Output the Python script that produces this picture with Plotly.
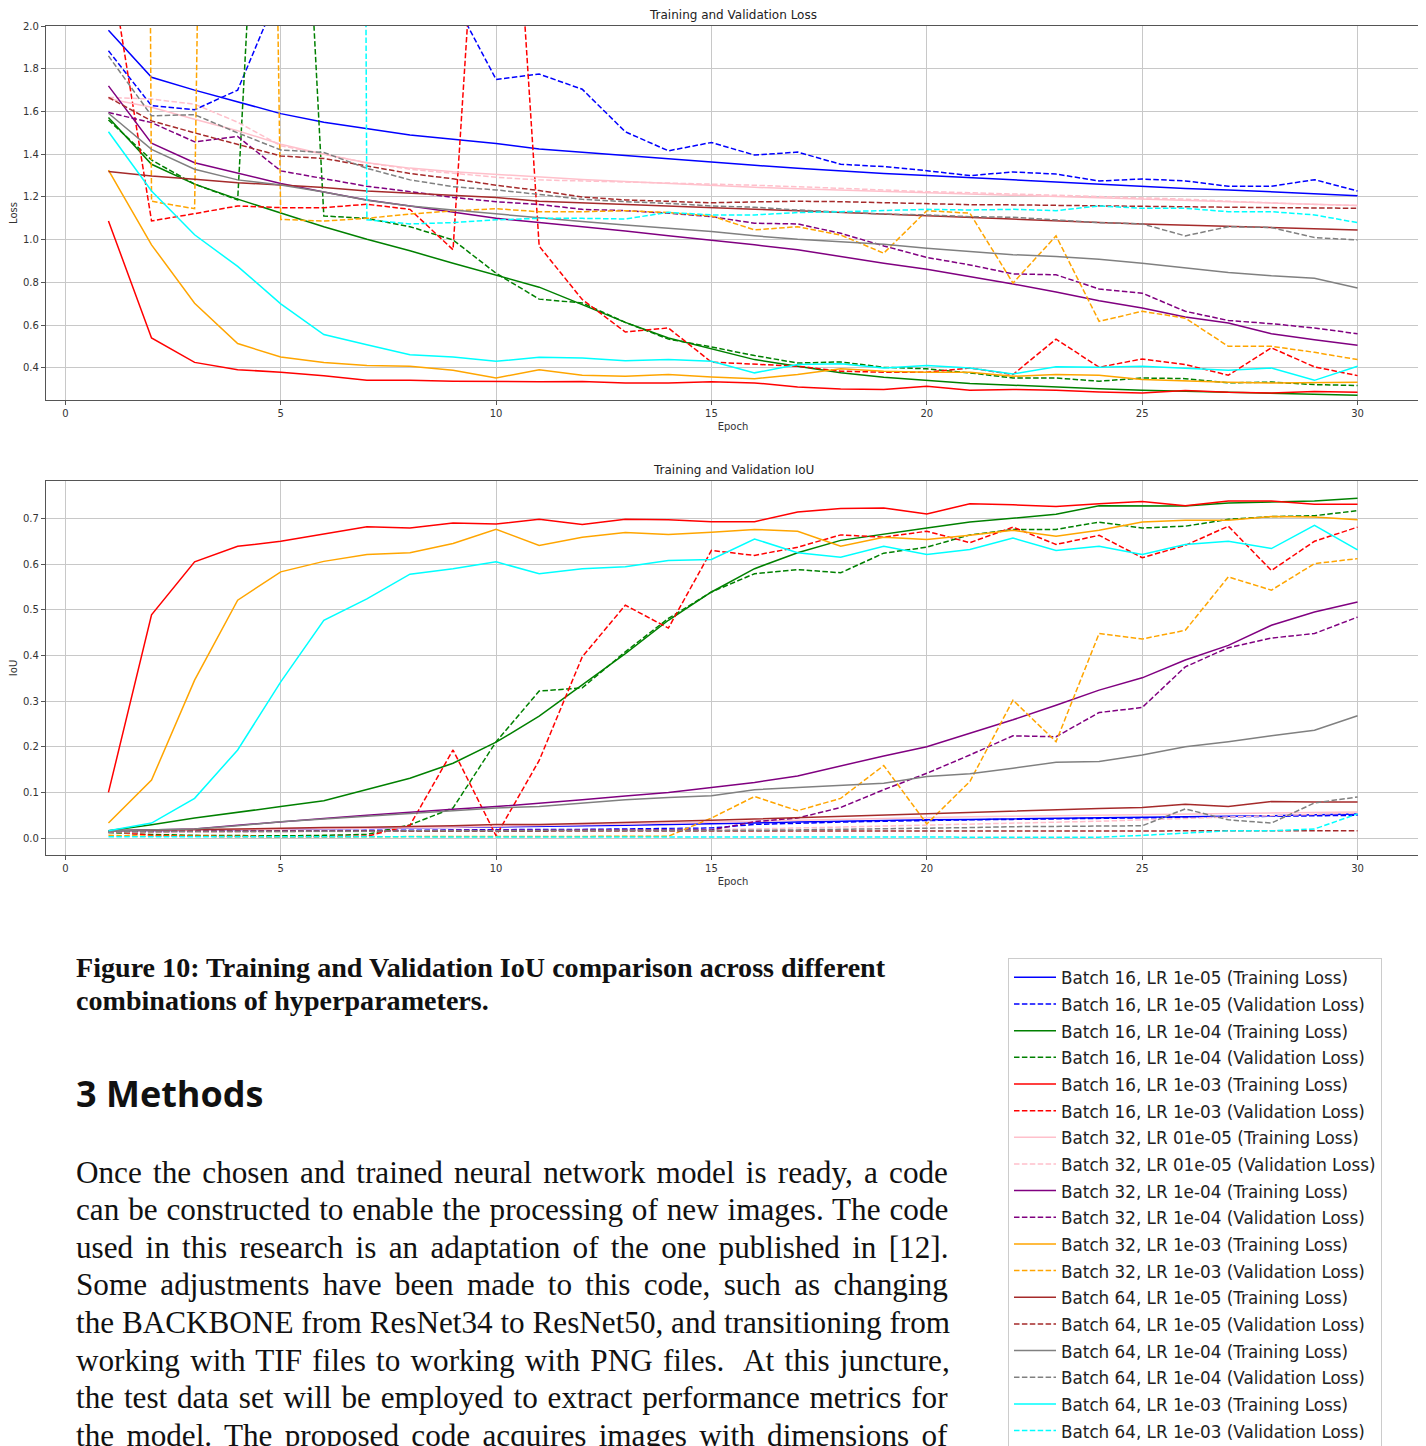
import plotly.graph_objects as go

W, H = 1426, 1446
OFF = 8  # the page body adds an 8px margin

epochs = list(range(1, 31))

configs = [
    "Batch 16, LR 1e-05", "Batch 16, LR 1e-04", "Batch 16, LR 1e-03",
    "Batch 32, LR 01e-05", "Batch 32, LR 1e-04", "Batch 32, LR 1e-03",
    "Batch 64, LR 1e-05", "Batch 64, LR 1e-04", "Batch 64, LR 1e-03",
]
colors = ["#0000ff", "#008000", "#ff0000", "#ffc0cb", "#800080",
          "#ffa500", "#a52a2a", "#808080", "#00ffff"]

# ---------------- Loss ----------------
loss_train_b16_1e5 = [1.98, 1.76, 1.70, 1.645, 1.59, 1.55, 1.52, 1.49, 1.47, 1.45, 1.425, 1.409, 1.393, 1.377, 1.362, 1.348, 1.334, 1.321, 1.31, 1.30, 1.29, 1.279, 1.268, 1.258, 1.25, 1.24, 1.233, 1.225, 1.217, 1.206]
loss_val_b16_1e5 = [1.884, 1.627, 1.608, 1.70, 2.18, 2.35, 2.4, 2.3, 2.13, 1.75, 1.775, 1.704, 1.505, 1.416, 1.455, 1.396, 1.41, 1.353, 1.342, 1.323, 1.30, 1.317, 1.307, 1.275, 1.284, 1.275, 1.25, 1.25, 1.281, 1.228]
loss_train_b16_1e4 = [1.572, 1.353, 1.26, 1.19, 1.125, 1.061, 1.002, 0.948, 0.89, 0.834, 0.778, 0.696, 0.613, 0.54, 0.489, 0.439, 0.408, 0.377, 0.356, 0.342, 0.327, 0.319, 0.31, 0.303, 0.296, 0.291, 0.286, 0.281, 0.277, 0.272]
loss_val_b16_1e4 = [1.56, 1.373, 1.26, 1.186, 5.0, 1.111, 1.10, 1.061, 0.999, 0.843, 0.722, 0.704, 0.613, 0.535, 0.498, 0.458, 0.423, 0.428, 0.403, 0.396, 0.377, 0.353, 0.353, 0.338, 0.353, 0.35, 0.33, 0.334, 0.322, 0.318]
loss_train_b16_1e3 = [1.088, 0.54, 0.426, 0.392, 0.38, 0.364, 0.342, 0.342, 0.338, 0.335, 0.335, 0.336, 0.33, 0.33, 0.335, 0.33, 0.311, 0.302, 0.299, 0.314, 0.296, 0.299, 0.296, 0.288, 0.283, 0.294, 0.286, 0.283, 0.29, 0.286]
loss_val_b16_1e3 = [2.34, 1.088, 1.122, 1.158, 1.15, 1.15, 1.166, 1.142, 0.953, 4.1, 0.97, 0.72, 0.568, 0.587, 0.427, 0.416, 0.408, 0.385, 0.38, 0.38, 0.40, 0.369, 0.535, 0.403, 0.442, 0.416, 0.366, 0.494, 0.405, 0.364]
loss_train_b32_1e5 = [1.66, 1.62, 1.564, 1.51, 1.447, 1.40, 1.36, 1.335, 1.318, 1.305, 1.292, 1.282, 1.272, 1.262, 1.252, 1.245, 1.238, 1.232, 1.225, 1.218, 1.212, 1.207, 1.202, 1.197, 1.19, 1.184, 1.178, 1.172, 1.166, 1.16]
loss_val_b32_1e5 = [1.666, 1.658, 1.634, 1.55, 1.44, 1.40, 1.36, 1.33, 1.31, 1.292, 1.28, 1.275, 1.27, 1.266, 1.262, 1.255, 1.248, 1.24, 1.232, 1.225, 1.22, 1.214, 1.21, 1.205, 1.198, 1.19, 1.18, 1.172, 1.165, 1.16]
loss_train_b32_1e4 = [1.72, 1.452, 1.36, 1.31, 1.263, 1.223, 1.186, 1.158, 1.128, 1.10, 1.08, 1.061, 1.041, 1.019, 0.999, 0.976, 0.953, 0.921, 0.89, 0.862, 0.828, 0.793, 0.755, 0.714, 0.68, 0.638, 0.61, 0.56, 0.532, 0.506]
loss_val_b32_1e4 = [1.595, 1.548, 1.458, 1.483, 1.322, 1.286, 1.25, 1.225, 1.198, 1.178, 1.165, 1.142, 1.136, 1.124, 1.108, 1.077, 1.074, 1.03, 0.971, 0.917, 0.882, 0.84, 0.836, 0.769, 0.75, 0.665, 0.622, 0.607, 0.587, 0.56]
loss_train_b32_1e3 = [1.326, 0.976, 0.703, 0.514, 0.451, 0.426, 0.411, 0.408, 0.389, 0.353, 0.392, 0.366, 0.361, 0.369, 0.358, 0.35, 0.369, 0.396, 0.385, 0.38, 0.38, 0.361, 0.369, 0.366, 0.346, 0.338, 0.333, 0.33, 0.33, 0.333]
loss_val_b32_1e3 = [35.0, 1.18, 1.145, 15.0, 1.095, 1.087, 1.10, 1.12, 1.135, 1.145, 1.131, 1.131, 1.136, 1.127, 1.111, 1.046, 1.061, 1.022, 0.937, 1.136, 1.124, 0.797, 1.018, 0.618, 0.665, 0.633, 0.501, 0.501, 0.473, 0.439]
loss_train_b64_1e5 = [1.319, 1.298, 1.283, 1.267, 1.256, 1.244, 1.228, 1.217, 1.206, 1.198, 1.18, 1.172, 1.165, 1.157, 1.15, 1.143, 1.136, 1.128, 1.12, 1.11, 1.102, 1.095, 1.088, 1.081, 1.074, 1.068, 1.062, 1.057, 1.052, 1.046]
loss_val_b64_1e5 = [1.666, 1.556, 1.50, 1.447, 1.392, 1.38, 1.345, 1.31, 1.285, 1.255, 1.23, 1.20, 1.186, 1.178, 1.173, 1.177, 1.18, 1.178, 1.173, 1.167, 1.164, 1.163, 1.16, 1.158, 1.156, 1.154, 1.152, 1.15, 1.149, 1.147]
loss_train_b64_1e4 = [1.592, 1.423, 1.33, 1.28, 1.256, 1.223, 1.185, 1.158, 1.139, 1.12, 1.103, 1.085, 1.069, 1.054, 1.038, 1.018, 1.002, 0.991, 0.979, 0.96, 0.945, 0.93, 0.921, 0.909, 0.89, 0.867, 0.847, 0.831, 0.82, 0.774]
loss_val_b64_1e4 = [1.86, 1.58, 1.585, 1.50, 1.42, 1.408, 1.334, 1.28, 1.248, 1.233, 1.212, 1.189, 1.178, 1.17, 1.158, 1.152, 1.139, 1.128, 1.12, 1.116, 1.108, 1.105, 1.093, 1.08, 1.074, 1.018, 1.061, 1.057, 1.01, 0.999]
loss_train_b64_1e3 = [1.505, 1.228, 1.023, 0.875, 0.70, 0.556, 0.509, 0.462, 0.451, 0.431, 0.45, 0.447, 0.434, 0.439, 0.431, 0.377, 0.416, 0.42, 0.40, 0.411, 0.40, 0.372, 0.405, 0.403, 0.408, 0.40, 0.389, 0.40, 0.342, 0.408]
loss_val_b64_1e3 = [20.0, 25.0, 30.0, 22.0, 28.0, 45.0, 1.093, 1.074, 1.08, 1.093, 1.10, 1.10, 1.097, 1.128, 1.116, 1.116, 1.127, 1.131, 1.136, 1.142, 1.139, 1.142, 1.136, 1.158, 1.147, 1.147, 1.131, 1.131, 1.116, 1.08]

# ---------------- IoU ----------------
iou_train_b16_1e5 = [0.015, 0.016, 0.018, 0.019, 0.02, 0.021, 0.022, 0.023, 0.024, 0.025, 0.026, 0.027, 0.028, 0.03, 0.031, 0.033, 0.035, 0.037, 0.038, 0.04, 0.041, 0.042, 0.043, 0.044, 0.046, 0.047, 0.048, 0.049, 0.051, 0.053]
iou_val_b16_1e5 = [0.012, 0.013, 0.014, 0.015, 0.016, 0.016, 0.017, 0.017, 0.018, 0.018, 0.019, 0.019, 0.02, 0.021, 0.022, 0.03, 0.033, 0.035, 0.037, 0.039, 0.04, 0.041, 0.042, 0.043, 0.044, 0.045, 0.046, 0.047, 0.048, 0.05]
iou_train_b16_1e4 = [0.016, 0.029, 0.044, 0.056, 0.069, 0.082, 0.106, 0.131, 0.164, 0.21, 0.267, 0.335, 0.404, 0.477, 0.539, 0.59, 0.625, 0.652, 0.666, 0.679, 0.692, 0.70, 0.709, 0.728, 0.728, 0.727, 0.734, 0.736, 0.738, 0.744]
iou_val_b16_1e4 = [0.012, 0.008, 0.006, 0.005, 0.005, 0.006, 0.008, 0.029, 0.066, 0.211, 0.322, 0.329, 0.408, 0.481, 0.539, 0.579, 0.588, 0.581, 0.624, 0.637, 0.664, 0.676, 0.676, 0.692, 0.679, 0.683, 0.698, 0.704, 0.706, 0.717]
iou_train_b16_1e3 = [0.10, 0.489, 0.605, 0.639, 0.65, 0.666, 0.682, 0.679, 0.69, 0.688, 0.698, 0.687, 0.698, 0.697, 0.693, 0.693, 0.714, 0.722, 0.723, 0.71, 0.732, 0.73, 0.726, 0.732, 0.737, 0.728, 0.738, 0.738, 0.731, 0.731]
iou_val_b16_1e3 = [0.015, 0.006, 0.004, 0.003, 0.003, 0.003, 0.004, 0.028, 0.193, 0.005, 0.17, 0.397, 0.51, 0.46, 0.63, 0.619, 0.637, 0.664, 0.659, 0.672, 0.647, 0.681, 0.643, 0.663, 0.614, 0.641, 0.683, 0.586, 0.65, 0.681]
iou_train_b32_1e5 = [0.015, 0.016, 0.017, 0.018, 0.019, 0.02, 0.021, 0.022, 0.024, 0.026, 0.027, 0.029, 0.031, 0.033, 0.036, 0.038, 0.040, 0.042, 0.044, 0.046, 0.047, 0.048, 0.049, 0.050, 0.051, 0.052, 0.053, 0.055, 0.056, 0.057]
iou_val_b32_1e5 = [0.012, 0.012, 0.013, 0.013, 0.014, 0.014, 0.015, 0.015, 0.016, 0.016, 0.017, 0.017, 0.018, 0.018, 0.019, 0.02, 0.022, 0.024, 0.026, 0.029, 0.031, 0.033, 0.035, 0.037, 0.04, 0.043, 0.046, 0.05, 0.053, 0.055]
iou_train_b32_1e4 = [0.016, 0.018, 0.02, 0.028, 0.036, 0.043, 0.05, 0.057, 0.063, 0.069, 0.076, 0.084, 0.092, 0.10, 0.111, 0.122, 0.136, 0.158, 0.18, 0.20, 0.229, 0.259, 0.291, 0.324, 0.351, 0.39, 0.422, 0.466, 0.495, 0.517]
iou_val_b32_1e4 = [0.015, 0.015, 0.015, 0.016, 0.016, 0.016, 0.016, 0.016, 0.017, 0.017, 0.017, 0.017, 0.017, 0.018, 0.018, 0.036, 0.044, 0.067, 0.106, 0.142, 0.182, 0.224, 0.222, 0.275, 0.286, 0.375, 0.417, 0.438, 0.448, 0.484]
iou_train_b32_1e3 = [0.033, 0.127, 0.346, 0.521, 0.583, 0.606, 0.621, 0.625, 0.645, 0.676, 0.641, 0.659, 0.669, 0.665, 0.67, 0.676, 0.672, 0.639, 0.659, 0.654, 0.663, 0.674, 0.661, 0.674, 0.692, 0.696, 0.696, 0.704, 0.703, 0.697]
iou_val_b32_1e3 = [0.006, 0.004, 0.004, 0.003, 0.003, 0.003, 0.003, 0.004, 0.004, 0.004, 0.004, 0.004, 0.004, 0.004, 0.044, 0.091, 0.06, 0.087, 0.159, 0.031, 0.124, 0.302, 0.211, 0.448, 0.436, 0.455, 0.572, 0.543, 0.601, 0.612]
iou_train_b64_1e5 = [0.016, 0.018, 0.019, 0.02, 0.022, 0.023, 0.024, 0.025, 0.027, 0.03, 0.03, 0.032, 0.034, 0.036, 0.039, 0.042, 0.045, 0.047, 0.05, 0.053, 0.056, 0.06, 0.063, 0.065, 0.067, 0.074, 0.069, 0.08, 0.079, 0.079]
iou_val_b64_1e5 = [0.014, 0.015, 0.015, 0.015, 0.015, 0.015, 0.015, 0.015, 0.016, 0.016, 0.016, 0.016, 0.016, 0.016, 0.016, 0.016, 0.016, 0.016, 0.016, 0.016, 0.016, 0.016, 0.016, 0.016, 0.016, 0.016, 0.016, 0.016, 0.016, 0.016]
iou_train_b64_1e4 = [0.016, 0.018, 0.02, 0.027, 0.036, 0.042, 0.048, 0.054, 0.059, 0.066, 0.069, 0.076, 0.084, 0.089, 0.093, 0.106, 0.111, 0.115, 0.12, 0.135, 0.141, 0.153, 0.166, 0.168, 0.182, 0.20, 0.211, 0.224, 0.236, 0.268]
iou_val_b64_1e4 = [0.014, 0.014, 0.015, 0.015, 0.015, 0.015, 0.015, 0.016, 0.016, 0.016, 0.016, 0.016, 0.016, 0.016, 0.017, 0.017, 0.018, 0.019, 0.02, 0.021, 0.023, 0.025, 0.026, 0.027, 0.027, 0.064, 0.04, 0.033, 0.077, 0.09]
iou_train_b64_1e3 = [0.016, 0.033, 0.087, 0.193, 0.342, 0.477, 0.524, 0.578, 0.59, 0.605, 0.579, 0.59, 0.594, 0.608, 0.61, 0.655, 0.625, 0.615, 0.639, 0.621, 0.632, 0.657, 0.63, 0.639, 0.621, 0.643, 0.65, 0.634, 0.685, 0.631]
iou_val_b64_1e3 = [0.003, 0.003, 0.002, 0.002, 0.002, 0.002, 0.002, 0.002, 0.002, 0.002, 0.002, 0.002, 0.002, 0.002, 0.002, 0.002, 0.002, 0.002, 0.002, 0.002, 0.002, 0.002, 0.002, 0.002, 0.006, 0.011, 0.016, 0.016, 0.02, 0.053]

loss_train = [loss_train_b16_1e5, loss_train_b16_1e4, loss_train_b16_1e3,
              loss_train_b32_1e5, loss_train_b32_1e4, loss_train_b32_1e3,
              loss_train_b64_1e5, loss_train_b64_1e4, loss_train_b64_1e3]
loss_val = [loss_val_b16_1e5, loss_val_b16_1e4, loss_val_b16_1e3,
            loss_val_b32_1e5, loss_val_b32_1e4, loss_val_b32_1e3,
            loss_val_b64_1e5, loss_val_b64_1e4, loss_val_b64_1e3]
iou_train = [iou_train_b16_1e5, iou_train_b16_1e4, iou_train_b16_1e3,
             iou_train_b32_1e5, iou_train_b32_1e4, iou_train_b32_1e3,
             iou_train_b64_1e5, iou_train_b64_1e4, iou_train_b64_1e3]
iou_val = [iou_val_b16_1e5, iou_val_b16_1e4, iou_val_b16_1e3,
           iou_val_b32_1e5, iou_val_b32_1e4, iou_val_b32_1e3,
           iou_val_b64_1e5, iou_val_b64_1e4, iou_val_b64_1e3]

caption_lines = [
    "Figure 10: Training and Validation IoU comparison across different",
    "combinations of hyperparameters.",
]
heading = "3 Methods"
body_lines = [
    "Once the chosen and trained neural network model is ready, a code",
    "can be constructed to enable the processing of new images. The code",
    "used in this research is an adaptation of the one published in [12].",
    "Some adjustments have been made to this code, such as changing",
    "the BACKBONE from ResNet34 to ResNet50, and transitioning from",
    "working with TIF files to working with PNG files.  At this juncture,",
    "the test data set will be employed to extract performance metrics for",
    "the model. The proposed code acquires images with dimensions of",
]
# extra word spacing (px) per line to imitate the justified paragraph
body_word_spacing = [3.4, 1.1, 4.5, 5.5, 0.0, 2.4, 2.0, 4.5]

DASH = "5.5px,2.4px"
LW = 1.5

fig = go.Figure()

for i, name in enumerate(configs):
    fig.add_trace(go.Scatter(x=epochs, y=loss_train[i], mode="lines",
                             name=f"<span style='font-size:16.8px'>{name} (Training Loss)</span>",
                             line=dict(color=colors[i], width=LW),
                             xaxis="x", yaxis="y"))
    fig.add_trace(go.Scatter(x=epochs, y=loss_val[i], mode="lines",
                             name=f"<span style='font-size:16.8px'>{name} (Validation Loss)</span>",
                             line=dict(color=colors[i], width=LW, dash=DASH),
                             xaxis="x", yaxis="y"))

for i, name in enumerate(configs):
    fig.add_trace(go.Scatter(x=epochs, y=iou_train[i], mode="lines",
                             name=f"{name} (Training IoU)", showlegend=False,
                             line=dict(color=colors[i], width=LW),
                             xaxis="x2", yaxis="y2"))
    fig.add_trace(go.Scatter(x=epochs, y=iou_val[i], mode="lines",
                             name=f"{name} (Validation IoU)", showlegend=False,
                             line=dict(color=colors[i], width=LW, dash=DASH),
                             xaxis="x2", yaxis="y2"))

def px_x(p):
    return (p - OFF) / W

def px_y(p):
    return 1 - (p - OFF) / H

axis_font = dict(family="DejaVu Sans", size=10, color="#333333")
common_x = dict(range=[-0.45, 31.45], tickmode="linear", tick0=0, dtick=5,
                showgrid=True, gridcolor="#c8c8c8", gridwidth=1,
                zeroline=False, showline=True, linecolor="#555555", linewidth=1.2,
                mirror=True, ticks="outside", ticklen=4, tickcolor="#555555",
                tickfont=axis_font)
common_y = dict(showgrid=True, gridcolor="#c8c8c8", gridwidth=1,
                zeroline=False, showline=True, linecolor="#555555", linewidth=1.2,
                mirror=True, ticks="outside", ticklen=4, tickcolor="#555555",
                tickfont=axis_font, tickformat=".1f")

fig.update_layout(
    width=W, height=H,
    margin=dict(l=0, r=0, t=0, b=0, autoexpand=False),
    paper_bgcolor="white", plot_bgcolor="white",
    xaxis=dict(domain=[px_x(46), px_x(1420)], anchor="y",
               title=dict(text="Epoch", font=axis_font, standoff=4), **common_x),
    yaxis=dict(domain=[px_y(400), px_y(26)], anchor="x", range=[0.25, 2.0],
               tickmode="linear", tick0=0, dtick=0.2,
               title=dict(text="Loss", font=axis_font, standoff=8), **common_y),
    xaxis2=dict(domain=[px_x(46), px_x(1420)], anchor="y2",
                title=dict(text="Epoch", font=axis_font, standoff=4), **common_x),
    yaxis2=dict(domain=[px_y(855), px_y(481)], anchor="x2", range=[-0.037, 0.782],
                tickmode="linear", tick0=0, dtick=0.1,
                title=dict(text="IoU", font=axis_font, standoff=8), **common_y),
    legend=dict(x=px_x(1008), y=px_y(958), xanchor="left", yanchor="top",
                font=dict(family="DejaVu Sans", size=18.2, color="#222222"),
                bgcolor="white", bordercolor="#cccccc", borderwidth=1,
                tracegroupgap=0, itemwidth=42),
    showlegend=True,
)

annotations = [
    dict(text="Training and Validation Loss", x=px_x(733), y=px_y(15),
         xref="paper", yref="paper", showarrow=False, xanchor="center", yanchor="middle",
         font=dict(family="DejaVu Sans", size=12, color="#222222")),
    dict(text="Training and Validation IoU", x=px_x(733), y=px_y(470),
         xref="paper", yref="paper", showarrow=False, xanchor="center", yanchor="middle",
         font=dict(family="DejaVu Sans", size=12, color="#222222")),
]
for k, line in enumerate(caption_lines):
    annotations.append(dict(text=f"<b>{line}</b>", x=px_x(74), y=px_y(967 + 33 * k),
                            xref="paper", yref="paper", showarrow=False,
                            xanchor="left", yanchor="middle",
                            font=dict(family="Liberation Serif", size=28.1, color="#111111")))
annotations.append(dict(text=f"<b>{heading}</b>", x=px_x(74), y=px_y(1093),
                        xref="paper", yref="paper", showarrow=False,
                        xanchor="left", yanchor="middle",
                        font=dict(family="Open Sans", size=36, color="#111111")))
for k, line in enumerate(body_lines):
    txt = f"<span style='word-spacing:{body_word_spacing[k]}px'>{line}</span>"
    annotations.append(dict(text=txt, x=px_x(74), y=px_y(1172 + 37.6 * k),
                            xref="paper", yref="paper", showarrow=False,
                            xanchor="left", yanchor="middle",
                            font=dict(family="Liberation Serif", size=31.2, color="#111111")))
fig.update_layout(annotations=annotations)

fig.write_html("out.html")
